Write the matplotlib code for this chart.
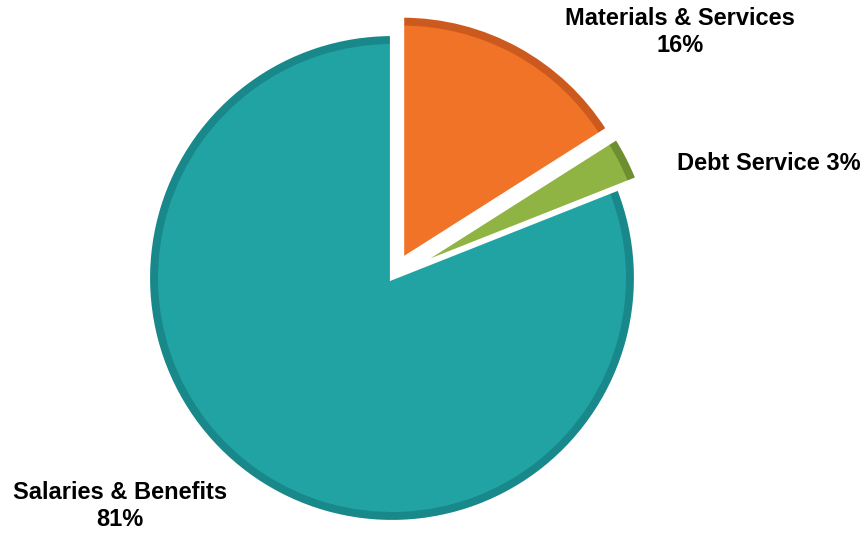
import matplotlib.pyplot as plt

# Budget shares (percent)
categories = ['Materials & Services', 'Debt Service', 'Salaries & Benefits']
shares = [16, 3, 81]
label_texts = ['Materials & Services\n16%', 'Debt Service 3%', 'Salaries & Benefits\n81%']

face_colors = ['#F07327', '#8FB443', '#21A3A4']
rim_colors = ['#CC5A1E', '#6E8E32', '#18888A']

plt.rcParams['font.family'] = ['Liberation Sans', 'DejaVu Sans']

fig = plt.figure(figsize=(8.65, 5.36), dpi=100)
ax = fig.add_axes([0, 0, 1, 1])

# work in pixel-like units so the pie lands where it should
center = (392, 258)
radius = 244
explode = [21, 21, 0]

# darker rim first, then the lighter face a bit smaller on top
ax.pie(shares, explode=explode, colors=rim_colors, startangle=90,
       counterclock=False, center=center, radius=radius,
       wedgeprops=dict(linewidth=0))
ax.pie(shares, explode=explode, colors=face_colors, startangle=90,
       counterclock=False, center=center, radius=radius - 10,
       wedgeprops=dict(linewidth=0))
# white outline on top so the gaps between slices stay clean
ax.pie(shares, explode=explode, startangle=90,
       counterclock=False, center=center, radius=radius,
       wedgeprops=dict(linewidth=3, edgecolor='white', fill=False))

label_pos = [(680, 504), (769, 373), (120, 30)]
for txt, (x, y) in zip(label_texts, label_pos):
    ax.text(x, y, txt, ha='center', va='center', fontsize=17,
            fontweight='bold', linespacing=1.2)

ax.set_xlim(0, 865)
ax.set_ylim(0, 536)
ax.set_aspect('equal')
ax.axis('off')

plt.savefig('out.png', dpi=100)
